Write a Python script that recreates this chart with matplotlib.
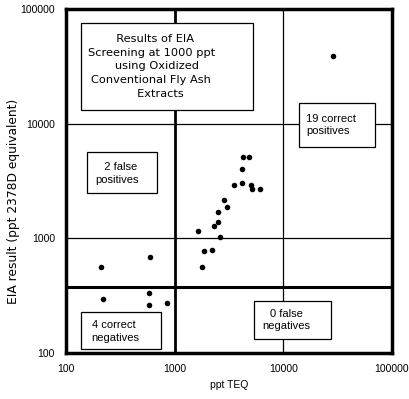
import numpy as np
import matplotlib
matplotlib.use("Agg")
import matplotlib.pyplot as plt
from matplotlib.patches import Rectangle

plt.rcParams['font.family'] = ['Liberation Sans', 'DejaVu Sans']

# ppt TEQ (x) and EIA result (y)
teq = [28600, 4230, 4800, 4130, 3520, 4190, 5000, 5180, 6090, 2820,
       3050, 2500, 2500, 2300, 1650, 2610, 1870, 2190, 1780,
       593, 208,
       220, 576, 580, 849]
eia = [38900, 5150, 5150, 4060, 2920, 3040, 2900, 2700, 2700, 2160,
       1870, 1710, 1380, 1290, 1170, 1030, 781, 797, 564,
       689, 564,
       297, 332, 264, 274]

x_cut = 1000
y_cut = 375
x_ticks = [100, 1000, 10000, 100000]
y_ticks = [100, 1000, 10000, 100000]

title_txt = "  Results of EIA\nScreening at 1000 ppt\n   using Oxidized\nConventional Fly Ash\n     Extracts"

fig = plt.figure(figsize=(4.1, 3.99), dpi=100)
ax = fig.add_axes([66/410, 1-353/399, 326/410, 344/399])

ax.set_xscale('log')
ax.set_yscale('log')
ax.set_xlim(100, 100000)
ax.set_ylim(100, 100000)

# grid lines
ax.axvline(10000, color='k', lw=0.9, zorder=1)
ax.axhline(1000, color='k', lw=0.9, zorder=1)
ax.axhline(10000, color='k', lw=0.9, zorder=1)
# screening cut-offs
ax.axvline(x_cut, color='k', lw=2.0, zorder=1)
ax.axhline(y_cut, color='k', lw=2.2, zorder=1)

ax.scatter(teq, eia, s=16, color='k', zorder=3, linewidths=0)

ax.set_xticks(x_ticks)
ax.set_xticklabels([str(v) for v in x_ticks])
ax.set_yticks(y_ticks)
ax.set_yticklabels([str(v) for v in y_ticks])
ax.minorticks_off()
ax.tick_params(length=0, labelsize=7.5, pad=8)
for s in ax.spines.values():
    s.set_linewidth(2.5)

ax.set_xlabel("ppt TEQ", fontsize=7.5, labelpad=4)
ax.set_ylabel("EIA result (ppt 2378D equivalent)", fontsize=8.8,
              family='DejaVu Sans', va='center')
ax.yaxis.set_label_coords(-0.16, 0.44)


def box(x0, y0, x1, y1, txt, tx, ty, ha='center', ls=1.35, **kw):
    ax.add_patch(Rectangle((x0, y0), x1-x0, y1-y0, transform=ax.transAxes,
                           facecolor='white', edgecolor='k', lw=0.9, zorder=4))
    ax.text(tx, ty, txt, transform=ax.transAxes, ha=ha, va='center',
            linespacing=ls, zorder=5, multialignment=ha, **kw)


box(0.045, 0.706, 0.575, 0.958, title_txt, 0.262, 0.833, ls=1.45,
    family='DejaVu Sans', fontsize=8.2)
box(0.716, 0.600, 0.948, 0.726, "19 correct\npositives", 0.736, 0.663,
    ha='left', fontsize=8)
box(0.065, 0.464, 0.280, 0.583, "  2 false\npositives", 0.158, 0.522,
    fontsize=8)
box(0.045, 0.011, 0.290, 0.118, "4 correct\nnegatives", 0.079, 0.063,
    ha='left', fontsize=8)
box(0.576, 0.041, 0.813, 0.150, "0 false\nnegatives", 0.676, 0.096,
    fontsize=8)

fig.savefig("out.png", dpi=100)
